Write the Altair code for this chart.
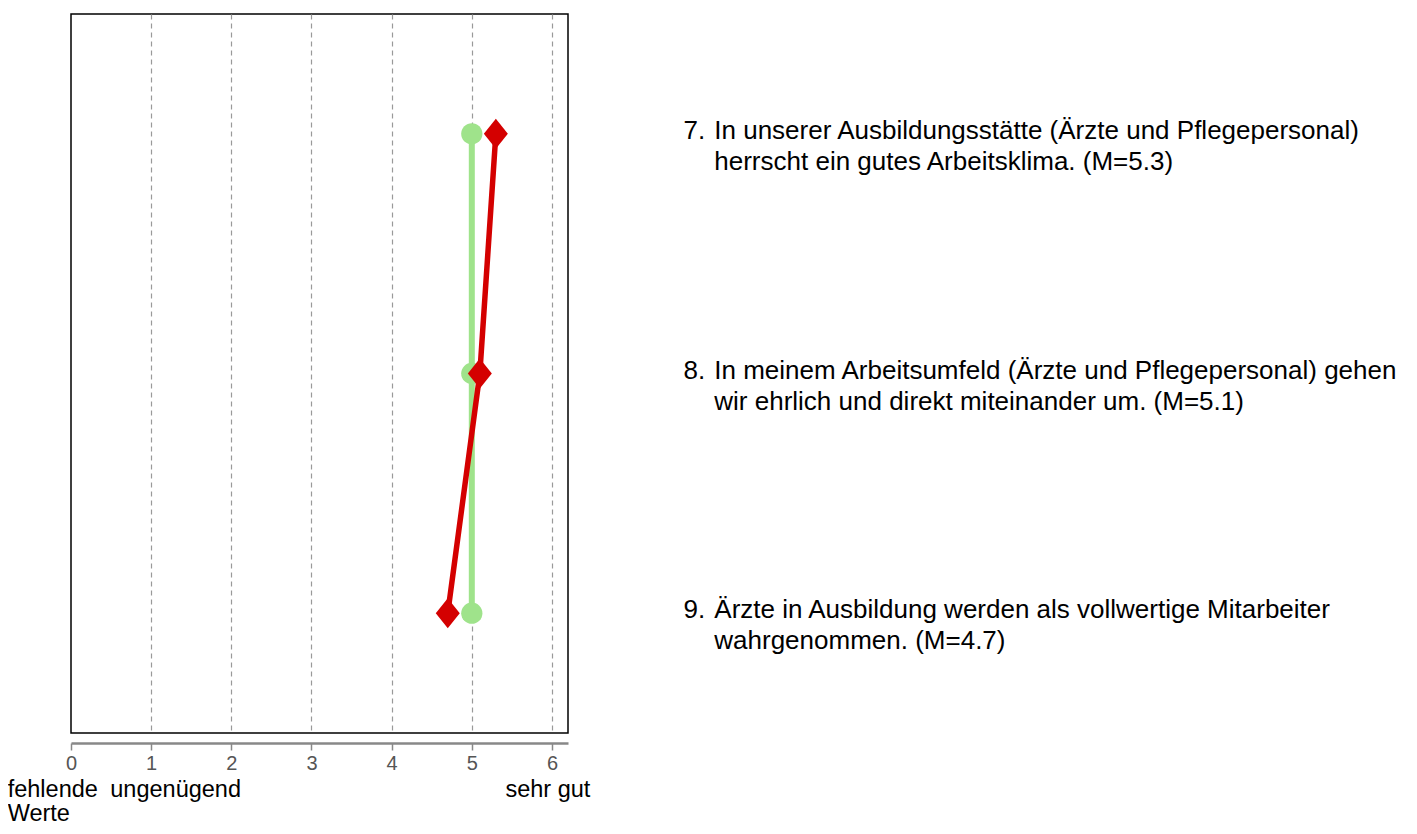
import altair as alt
import pandas as pd

# ---- data ----
items = [7, 8, 9]
green_vals = [5.0, 5.0, 5.0]
red_vals = [5.3, 5.1, 4.7]

item_numbers = ["7.", "8.", "9."]
item_line1 = [
    "In unserer Ausbildungsstätte (Ärzte und Pflegepersonal)",
    "In meinem Arbeitsumfeld (Ärzte und Pflegepersonal) gehen",
    "Ärzte in Ausbildung werden als vollwertige Mitarbeiter",
]
item_line2 = [
    "herrscht ein gutes Arbeitsklima. (M=5.3)",
    "wir ehrlich und direkt miteinander um. (M=5.1)",
    "wahrgenommen. (M=4.7)",
]

x_ticks = [0, 1, 2, 3, 4, 5, 6]
grid_ticks = [1, 2, 3, 4, 5, 6]
scale_texts = [["fehlende", "Werte"], ["ungenügend"], ["sehr gut"]]
scale_text_x = [-0.79, 0.49, 5.42]

GREEN = "#9fe38b"
RED = "#d40000"
FONT = "Liberation Sans"

green_df = pd.DataFrame({"item": items, "value": green_vals})
red_df = pd.DataFrame({"item": items, "value": red_vals})
num_df = pd.DataFrame({"item": items, "num": item_numbers, "x": [7.64] * 3})
body_df = pd.DataFrame({
    "item": items,
    "lines": [[a, b] for a, b in zip(item_line1, item_line2)],
    "x": [8.025] * 3,
})
scale_df = pd.DataFrame({"x": scale_text_x, "label": scale_texts, "item": [9.5] * 3})

xscale = alt.Scale(domain=[0, 6.2], nice=False, zero=False)
yscale = alt.Scale(domain=[6.5, 9.5], reverse=True, nice=False, zero=False)

xaxis = alt.Axis(
    orient="bottom", values=x_ticks, format="d", title=None, grid=False,
    domainColor="#888888", domainWidth=2.5,
    tickColor="#888888", tickSize=7, tickWidth=1.5,
    labelColor="#555555", labelFontSize=20, labelFont=FONT, labelPadding=3,
    labelFlush=False, offset=10,
)
grid_axis = alt.Axis(
    orient="top", values=grid_ticks, title=None, grid=True, labels=False, ticks=False,
    domain=False, gridDash=[5, 4], gridColor="#999999", gridWidth=1.2,
)

Y = alt.Y("item:Q", scale=yscale, axis=None)

green_line = alt.Chart(green_df).mark_line(color=GREEN, strokeWidth=6).encode(
    x=alt.X("value:Q", scale=xscale, axis=xaxis), y=Y, order=alt.Order("item:Q")
)
green_pts = alt.Chart(green_df).mark_point(
    filled=True, shape="circle", size=452, color=GREEN, opacity=1
).encode(x=alt.X("value:Q", scale=xscale, axis=None), y=Y)

red_line = alt.Chart(red_df).mark_line(color=RED, strokeWidth=5.5).encode(
    x=alt.X("value:Q", scale=xscale, axis=None), y=Y, order=alt.Order("item:Q")
)
red_pts = alt.Chart(red_df).mark_point(
    filled=True, shape="M0,-1.25L1,0L0,1.25L-1,0Z", size=576, color=RED, opacity=1
).encode(x=alt.X("value:Q", scale=xscale, axis=None), y=Y)

nums = alt.Chart(num_df).mark_text(
    align="left", baseline="alphabetic", fontSize=26, font=FONT, color="black", dy=5
).encode(x=alt.X("x:Q", scale=xscale, axis=grid_axis), y=Y, text="num:N")

bodies = alt.Chart(body_df).mark_text(
    align="left", baseline="alphabetic", fontSize=26, font=FONT, color="black",
    dy=5, lineHeight=31
).encode(x=alt.X("x:Q", scale=xscale, axis=None), y=Y, text="lines")

scale_lbl = alt.Chart(scale_df).mark_text(
    align="left", baseline="alphabetic", fontSize=23.5, font=FONT, color="black",
    dy=64, lineHeight=23.5
).encode(x=alt.X("x:Q", scale=xscale, axis=None), y=Y, text="label")

chart = alt.layer(
    green_line, nums, green_pts, red_line, red_pts, bodies, scale_lbl
).resolve_axis(x="independent").properties(
    width=497, height=719,
    autosize=alt.AutoSizeParams(type="none"),
    padding={"left": 63, "top": 6, "right": 841, "bottom": 93},
).configure_view(stroke="black", strokeWidth=1.5)

chart.save("out.html", embed_options={"renderer": "svg", "actions": False})
